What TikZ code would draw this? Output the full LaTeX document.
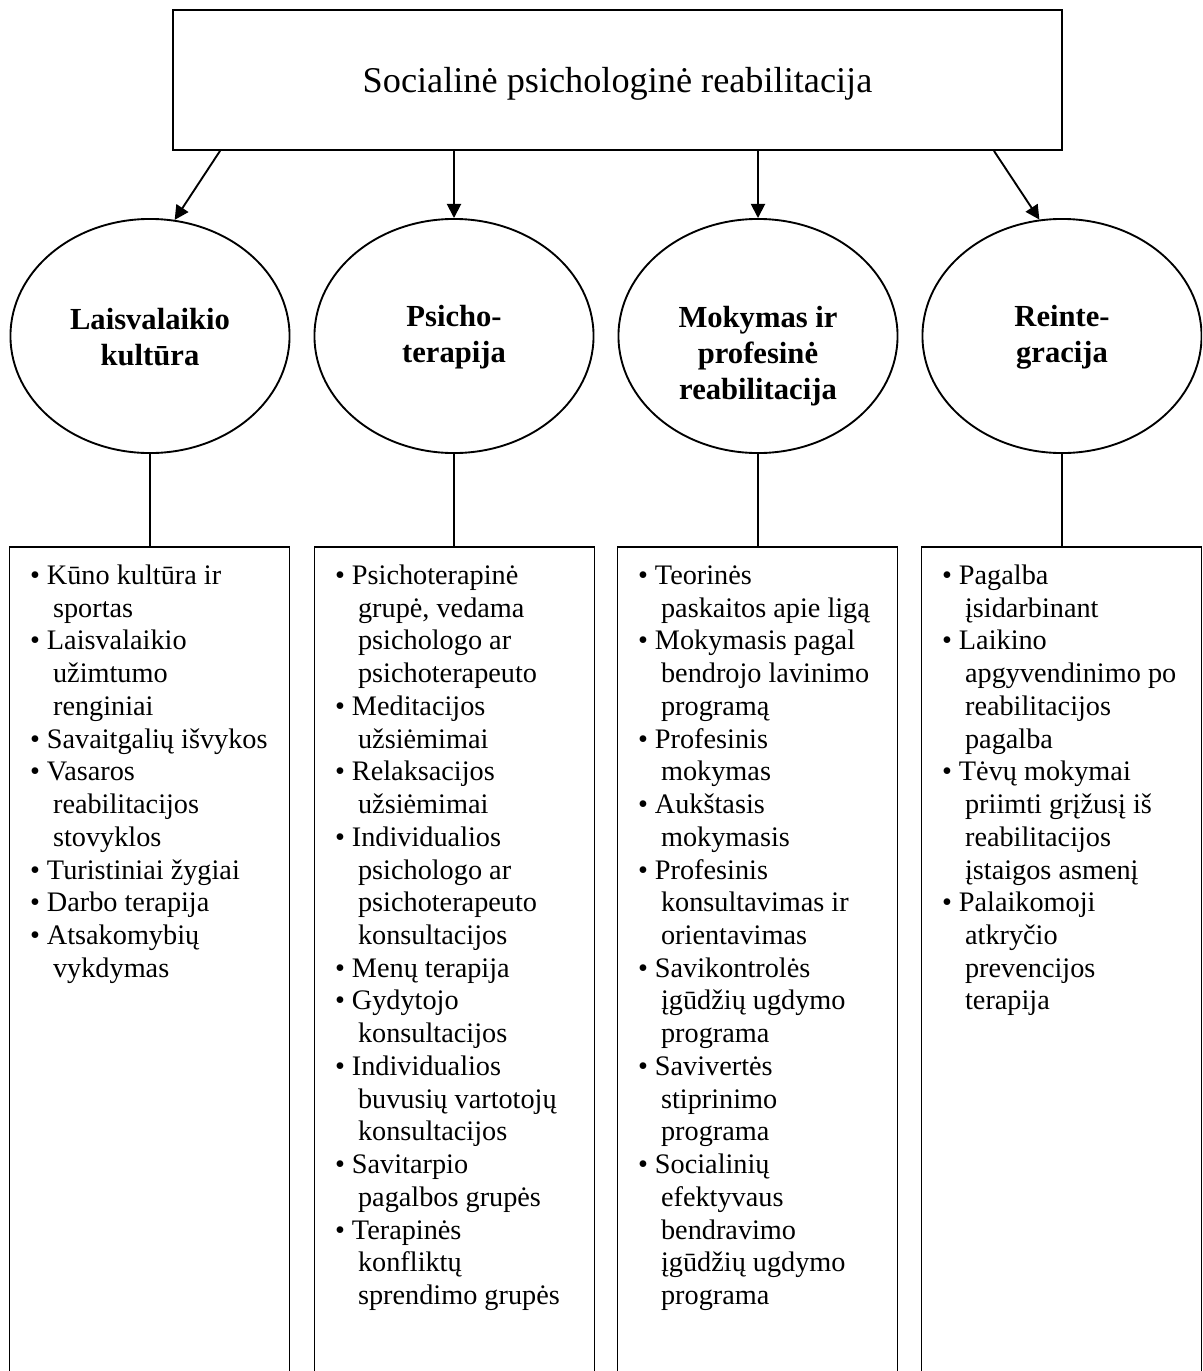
\documentclass[tikz,border=0pt]{standalone}
\usepackage{fontspec}
\setmainfont{Liberation Serif}
\usepackage{tikz}
\usetikzlibrary{shapes.geometric,arrows.meta,positioning,calc}

\newcommand{\lbul}{\strut\makebox[7.2pt][l]{\textbullet}}
\newcommand{\lcont}{\hspace*{9.8pt}}

\tikzset{
    topbox/.style={draw, line width=0.8pt, minimum width=377.5pt, minimum height=59.4pt,
        inner sep=0pt, text depth=0pt, font=\fontsize{15.4}{18}\selectfont},
    oval/.style={draw, ellipse, line width=0.8pt, minimum width=118.5pt,
        minimum height=99.4pt, inner sep=0pt},
    head/.style={align=center, inner sep=0pt, font=\fontsize{13}{15.4}\selectfont\bfseries},
    panel/.style={draw, line width=0.8pt, minimum width=118.9pt, minimum height=361pt,
        inner sep=0pt, anchor=north},
    items/.style={align=left, anchor=north west, inner sep=0pt,
        font=\fontsize{12}{13.9}\selectfont},
    arr/.style={line width=0.8pt, -{Triangle[length=6pt,width=6pt]}},
    link/.style={line width=0.8pt}
}

\begin{document}
\begin{tikzpicture}[x=0.4246pt, y=-0.4246pt]
    \useasboundingbox (0,0) rectangle (1202,1371);
    \clip (0,0) rectangle (1202,1371);

    % Top box
    \node[topbox] (top) at (617.5,80) {Socialinė psichologinė reabilitacija};

    % Ellipses
    \node[oval] (e1) at (150,336) {};
    \node[oval] (e2) at (454,336) {};
    \node[oval] (e3) at (758,336) {};
    \node[oval] (e4) at (1062,336) {};
    \node[head] (h1) at (150,337) {Laisvalaikio\\kultūra};
    \node[head] (h2) at (454,337) {Psicho-\\terapija};
    \node[head] (h3) at (758,356) {Mokymas ir\\profesinė\\reabilitacija};
    \node[head] (h4) at (1062,337) {Reinte-\\gracija};

    % Arrows
    \draw[arr] ($(top.south west)+(48,0)$) -- (e1.78);
    \draw[arr] (top.south -| e2.north) -- (e2.north);
    \draw[arr] (top.south -| e3.north) -- (e3.north);
    \draw[arr] ($(top.south east)+(-69,0)$) -- (e4.101);

    % Boxes
    \node[panel] (b1) at (149.5,546) {};
    \node[panel] (b2) at (454.5,546) {};
    \node[panel] (b3) at (757.5,546) {};
    \node[panel] (b4) at (1061.5,546) {};
    \draw[link] (e1.south) -- (e1.south |- b1.north);
    \draw[link] (e2.south) -- (e2.south |- b2.north);
    \draw[link] (e3.south) -- (e3.south |- b3.north);
    \draw[link] (e4.south) -- (e4.south |- b4.north);

    % Lists
    \node[items] (l1) at ($(b1.north west)+(21,15)$) {%
        \lbul Kūno kultūra ir\\
        \lcont sportas\\
        \lbul Laisvalaikio\\
        \lcont užimtumo\\
        \lcont renginiai\\
        \lbul Savaitgalių išvykos\\
        \lbul Vasaros\\
        \lcont reabilitacijos\\
        \lcont stovyklos\\
        \lbul Turistiniai žygiai\\
        \lbul Darbo terapija\\
        \lbul Atsakomybių\\
        \lcont vykdymas};
    \node[items] (l2) at ($(b2.north west)+(21,15)$) {%
        \lbul Psichoterapinė\\
        \lcont grupė, vedama\\
        \lcont psichologo ar\\
        \lcont psichoterapeuto\\
        \lbul Meditacijos\\
        \lcont užsiėmimai\\
        \lbul Relaksacijos\\
        \lcont užsiėmimai\\
        \lbul Individualios\\
        \lcont psichologo ar\\
        \lcont psichoterapeuto\\
        \lcont konsultacijos\\
        \lbul Menų terapija\\
        \lbul Gydytojo\\
        \lcont konsultacijos\\
        \lbul Individualios\\
        \lcont buvusių vartotojų\\
        \lcont konsultacijos\\
        \lbul Savitarpio\\
        \lcont pagalbos grupės\\
        \lbul Terapinės\\
        \lcont konfliktų\\
        \lcont sprendimo grupės};
    \node[items] (l3) at ($(b3.north west)+(21,15)$) {%
        \lbul Teorinės\\
        \lcont paskaitos apie ligą\\
        \lbul Mokymasis pagal\\
        \lcont bendrojo lavinimo\\
        \lcont programą\\
        \lbul Profesinis\\
        \lcont mokymas\\
        \lbul Aukštasis\\
        \lcont mokymasis\\
        \lbul Profesinis\\
        \lcont konsultavimas ir\\
        \lcont orientavimas\\
        \lbul Savikontrolės\\
        \lcont įgūdžių ugdymo\\
        \lcont programa\\
        \lbul Savivertės\\
        \lcont stiprinimo\\
        \lcont programa\\
        \lbul Socialinių\\
        \lcont efektyvaus\\
        \lcont bendravimo\\
        \lcont įgūdžių ugdymo\\
        \lcont programa};
    \node[items] (l4) at ($(b4.north west)+(21,15)$) {%
        \lbul Pagalba\\
        \lcont įsidarbinant\\
        \lbul Laikino\\
        \lcont apgyvendinimo po\\
        \lcont reabilitacijos\\
        \lcont pagalba\\
        \lbul Tėvų mokymai\\
        \lcont priimti grįžusį iš\\
        \lcont reabilitacijos\\
        \lcont įstaigos asmenį\\
        \lbul Palaikomoji\\
        \lcont atkryčio\\
        \lcont prevencijos\\
        \lcont terapija};
\end{tikzpicture}
\end{document}
